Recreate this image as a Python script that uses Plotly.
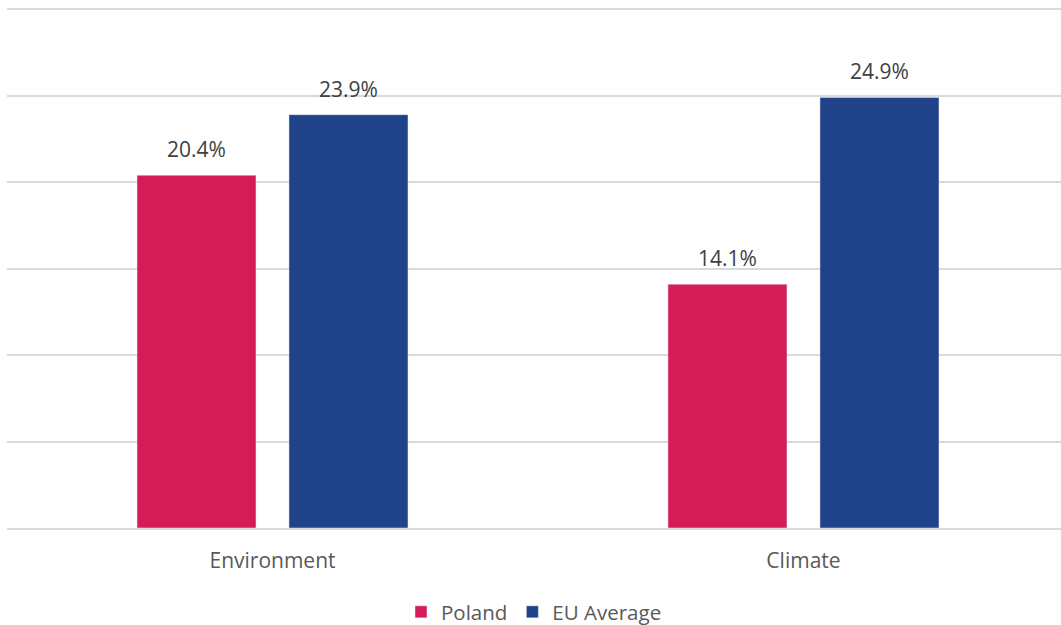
import plotly.graph_objects as go

categories = ["Environment", "Climate"]
poland = [20.4, 14.1]
eu_avg = [23.9, 24.9]
series_names = ["Poland", "EU Average"]
colors = ["#D61C56", "#1F4288"]

BARGAP = 0.4275
fig = go.Figure()
for name, vals, col in zip(series_names, [poland, eu_avg], colors):
    fig.add_trace(go.Bar(x=categories, y=vals, name=name, marker=dict(color=col)))

# data labels placed above each bar (offset per group derived from bargap)
half = (1 - BARGAP) / 4
for k, vals in enumerate([poland, eu_avg]):
    for i, v in enumerate(vals):
        fig.add_annotation(
            x=i + (-half if k == 0 else half), y=v, xref="x", yref="y",
            text=f"{v:.1f}%", showarrow=False, yanchor="bottom", yshift=10,
            font=dict(family="Open Sans", size=21, color="#404040"),
        )

fig.update_layout(
    width=1061, height=625,
    margin=dict(l=7, r=0, t=4, b=97, autoexpand=False),
    paper_bgcolor="white", plot_bgcolor="white",
    font=dict(family="Open Sans", color="#595959", size=21),
    barmode="group", bargap=BARGAP, bargroupgap=0.217,
    showlegend=True,
    legend=dict(orientation="h", x=0.5, xanchor="center", y=(625 - 612) / 625,
                yref="container", yanchor="middle",
                font=dict(size=20.5, color="#595959"), traceorder="normal"),
    xaxis=dict(range=[-0.5, 1.485], showgrid=False, showline=True, linecolor="#D9D9D9",
               linewidth=2, ticks="", ticklabelstandoff=13,
               tickfont=dict(size=21, color="#595959")),
    yaxis=dict(range=[0, 30.3], dtick=5, showticklabels=False, showgrid=True,
               gridcolor="#D9D9D9", gridwidth=2, zeroline=False, showline=False),
)
fig.write_html("out.html")
